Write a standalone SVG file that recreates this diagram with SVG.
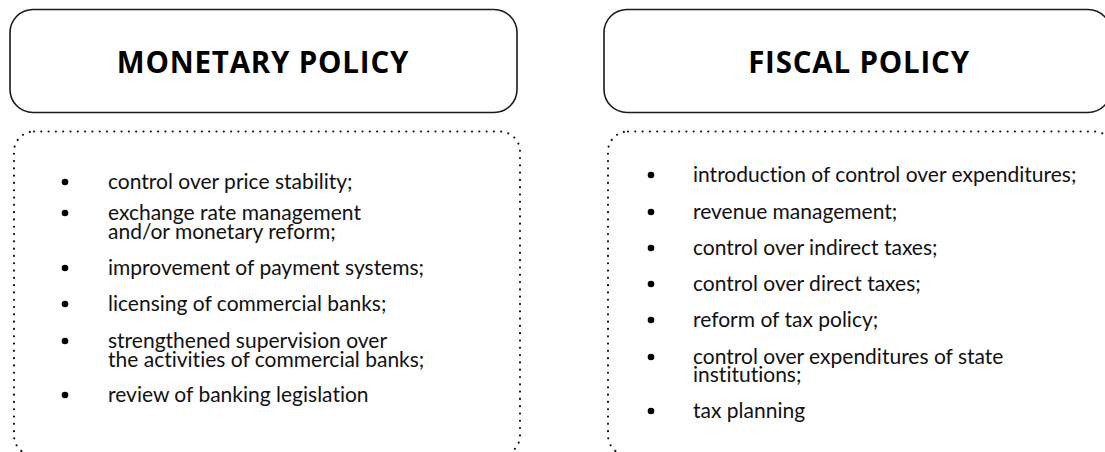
<svg xmlns="http://www.w3.org/2000/svg" width="1105" height="452" viewBox="0 0 1105 452">
<style>
.hdr{fill:#fff;stroke:#1a1a1a;stroke-width:1.6}
.dot{fill:none;stroke:#111;stroke-width:2.2;stroke-linecap:round;stroke-dasharray:0 7.3}
.title{font-family:"Open Sans","Liberation Sans",sans-serif;font-weight:700;font-size:29.5px;letter-spacing:0.8px;fill:#000;text-anchor:middle}
.item{font-family:Lato,"Open Sans","Liberation Sans",sans-serif;font-size:21px;fill:#111;font-variant-ligatures:none;font-feature-settings:"liga" 0}
.bul{fill:#000}
</style>
<rect width="1105" height="452" fill="#fff"/>
<g id="monetary-header">
<rect class="hdr" x="10" y="9.5" width="507" height="103" rx="23"/>
<text class="title" x="263" y="73">MONETARY POLICY</text>
</g>
<g id="monetary-list">
<rect class="dot" x="14" y="131.5" width="506" height="324" rx="20"/>
<g class="bul">
<circle cx="65" cy="182" r="3.3"/>
<circle cx="65" cy="213" r="3.3"/>
<circle cx="65" cy="268" r="3.3"/>
<circle cx="65" cy="304" r="3.3"/>
<circle cx="65" cy="341" r="3.3"/>
<circle cx="65" cy="395" r="3.3"/>
</g>
<g class="item">
<text x="108" y="189">control over price stability;</text>
<text x="108" y="219.5">exchange rate management</text>
<text x="108" y="238.5">and/or monetary reform;</text>
<text x="108" y="275">improvement of payment systems;</text>
<text x="108" y="311">licensing of commercial banks;</text>
<text x="108" y="347.5">strengthened supervision over</text>
<text x="108" y="366.5">the activities of commercial banks;</text>
<text x="108" y="402">review of banking legislation</text>
</g>
</g>
<g id="fiscal-header">
<rect class="hdr" x="604" y="9.5" width="507" height="103" rx="23"/>
<text class="title" x="859" y="73">FISCAL POLICY</text>
</g>
<g id="fiscal-list">
<rect class="dot" x="608" y="131.5" width="506" height="324" rx="20"/>
<g class="bul">
<circle cx="651" cy="175" r="3.3"/>
<circle cx="651" cy="212" r="3.3"/>
<circle cx="651" cy="248" r="3.3"/>
<circle cx="651" cy="284" r="3.3"/>
<circle cx="651" cy="320" r="3.3"/>
<circle cx="651" cy="357" r="3.3"/>
<circle cx="651" cy="411" r="3.3"/>
</g>
<g class="item">
<text x="693" y="182">introduction of control over expenditures;</text>
<text x="693" y="219">revenue management;</text>
<text x="693" y="255">control over indirect taxes;</text>
<text x="693" y="291">control over direct taxes;</text>
<text x="693" y="327">reform of tax policy;</text>
<text x="693" y="363.5">control over expenditures of state</text>
<text x="693" y="381.5">institutions;</text>
<text x="693" y="418">tax planning</text>
</g>
</g>
<g id="connectors"></g>
</svg>
